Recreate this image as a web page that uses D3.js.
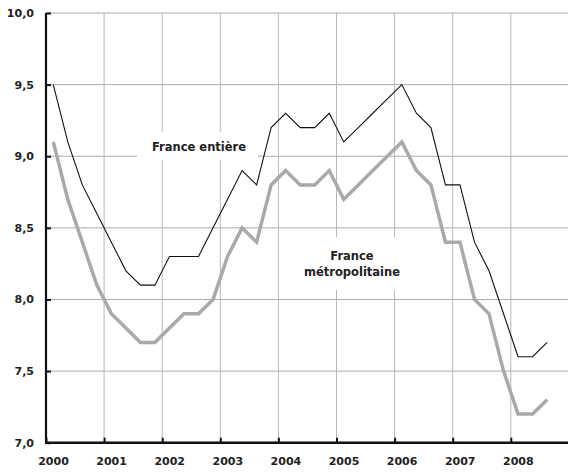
<!DOCTYPE html>
<html>
<head>
<meta charset="utf-8">
<script src="https://cdn.jsdelivr.net/npm/d3@7"></script>
<style>
  body { margin: 0; background: #fff; }
  text { font-family: "DejaVu Sans", sans-serif; fill: #222; }
</style>
</head>
<body>
<div id="chart"></div>
<script>
// quarterly unemployment rate, 2000 T1 -> 2008 T3

var quarters = [
  "2000T1", "2000T2", "2000T3", "2000T4",
  "2001T1", "2001T2", "2001T3", "2001T4",
  "2002T1", "2002T2", "2002T3", "2002T4",
  "2003T1", "2003T2", "2003T3", "2003T4",
  "2004T1", "2004T2", "2004T3", "2004T4",
  "2005T1", "2005T2", "2005T3", "2005T4",
  "2006T1", "2006T2", "2006T3", "2006T4",
  "2007T1", "2007T2", "2007T3", "2007T4",
  "2008T1", "2008T2", "2008T3"
];

var franceEntiere = [
  9.5, 9.1, 8.8, 8.6,
  8.4, 8.2, 8.1, 8.1,
  8.3, 8.3, 8.3, 8.5,
  8.7, 8.9, 8.8, 9.2,
  9.3, 9.2, 9.2, 9.3,
  9.1, 9.2, 9.3, 9.4,
  9.5, 9.3, 9.2, 8.8,
  8.8, 8.4, 8.2, 7.9,
  7.6, 7.6, 7.7
];

var franceMetro = [
  9.1, 8.7, 8.4, 8.1,
  7.9, 7.8, 7.7, 7.7,
  7.8, 7.9, 7.9, 8.0,
  8.3, 8.5, 8.4, 8.8,
  8.9, 8.8, 8.8, 8.9,
  8.7, 8.8, 8.9, 9.0,
  9.1, 8.9, 8.8, 8.4,
  8.4, 8.0, 7.9, 7.5,
  7.2, 7.2, 7.3
];

var yearTicks = [2000, 2001, 2002, 2003, 2004, 2005, 2006, 2007, 2008];
var valueTicks = [7.0, 7.5, 8.0, 8.5, 9.0, 9.5, 10.0];

var svgWidth = 568;
var svgHeight = 472;

var margin = { top: 13, right: 0, bottom: 29.3, left: 46 };
var width = svgWidth - margin.left - margin.right;
var height = svgHeight - margin.top - margin.bottom;

var svg = d3.select("#chart")
  .append("svg")
  .attr("width", svgWidth)
  .attr("height", svgHeight);

var chartGroup = svg.append("g")
  .attr("transform", `translate(${margin.left}, ${margin.top})`);

// x: one year = 58.1 px, quarters sit in the middle of their slot
var xScale = d3.scaleLinear()
  .domain([2000, 2009])
  .range([0, 522.9]);

var yScale = d3.scaleLinear()
  .domain([7, 10])
  .range([height, 0]);

function quarterPos(q) {
  var year = +q.slice(0, 4);
  var num = +q.slice(5);
  return year + (num - 0.5) / 4;
}

// grid
chartGroup.append("g")
  .selectAll("line")
  .data(valueTicks.filter(d => d > 7))
  .enter()
  .append("line")
  .attr("x1", 0)
  .attr("x2", width)
  .attr("y1", d => yScale(d))
  .attr("y2", d => yScale(d))
  .attr("stroke", "#ababab")
  .attr("stroke-width", 1);

chartGroup.append("g")
  .selectAll("line")
  .data(yearTicks.filter(d => d > 2000))
  .enter()
  .append("line")
  .attr("x1", d => xScale(d))
  .attr("x2", d => xScale(d))
  .attr("y1", 0)
  .attr("y2", height)
  .attr("stroke", "#b8b8b8")
  .attr("stroke-width", 1);

// white boxes behind the labels cut the grid
svg.append("rect")
  .attr("x", 137).attr("y", 132).attr("width", 121).attr("height", 28)
  .attr("fill", "#fff");
svg.append("rect")
  .attr("x", 298).attr("y", 237).attr("width", 110).attr("height", 53)
  .attr("fill", "#fff");

// lines
var line = d3.line()
  .x((d, i) => xScale(quarterPos(quarters[i])))
  .y(d => yScale(d));

chartGroup.append("path")
  .datum(franceMetro)
  .attr("fill", "none")
  .attr("stroke", "#a9a9a9")
  .attr("stroke-width", 3.5)
  .attr("stroke-linejoin", "miter")
  .attr("d", line);

chartGroup.append("path")
  .datum(franceEntiere)
  .attr("fill", "none")
  .attr("stroke", "#111")
  .attr("stroke-width", 1.1)
  .attr("d", line);

// axes
var leftAxis = d3.axisLeft(yScale)
  .tickValues(valueTicks)
  .tickSize(-5)
  .tickPadding(12)
  .tickFormat(d => d3.format(".1f")(d).replace(".", ","));

var bottomAxis = d3.axisBottom(xScale)
  .tickValues(yearTicks)
  .tickSize(-5)
  .tickPadding(15)
  .tickFormat(d => d);

var yAxis = chartGroup.append("g").call(leftAxis);
var xAxis = chartGroup.append("g")
  .attr("transform", `translate(0, ${height})`)
  .call(bottomAxis);

yAxis.select(".domain").remove();
xAxis.select(".domain").remove();

chartGroup.append("line")
  .attr("x1", 0).attr("x2", 0)
  .attr("y1", 0).attr("y2", height)
  .attr("stroke", "#111").attr("stroke-width", 2.2);
chartGroup.append("line")
  .attr("x1", -1).attr("x2", width)
  .attr("y1", height).attr("y2", height)
  .attr("stroke", "#111").attr("stroke-width", 2.4);

chartGroup.selectAll(".tick line")
  .attr("stroke", "#111")
  .attr("stroke-width", 2);

chartGroup.selectAll(".tick text")
  .style("font-family", "DejaVu Sans, sans-serif")
  .style("font-size", "11px")
  .style("font-weight", "bold")
  .attr("fill", "#222");

xAxis.selectAll(".tick text").attr("dx", 7);

// annotations
svg.append("text")
  .attr("x", 199)
  .attr("y", 151)
  .attr("text-anchor", "middle")
  .style("font-size", "11.5px")
  .style("font-weight", "bold")
  .text("France entière");

var metroLabel = svg.append("text")
  .attr("x", 352)
  .attr("text-anchor", "middle")
  .style("font-size", "11.5px")
  .style("font-weight", "bold");

metroLabel.append("tspan").attr("x", 352).attr("y", 260).text("France");
metroLabel.append("tspan").attr("x", 352).attr("y", 276).text("métropolitaine");
</script>
</body>
</html>
